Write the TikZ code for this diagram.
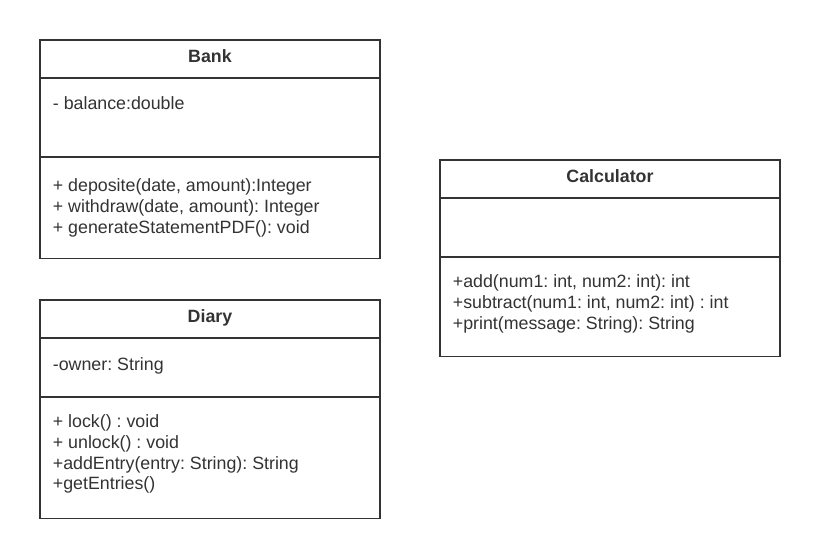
\documentclass[tikz,border=0pt]{standalone}
\usepackage{fontspec}
\setmainfont{Liberation Sans}
\frenchspacing
\definecolor{umlgray}{HTML}{333333}
\def\s{0.035146}
\def\punkt#1#2{({(#1)*\s},{-(#2)*\s})}

\begin{document}
\begin{tikzpicture}[line width=1.8pt,color=umlgray,
	every node/.style={inner sep=0pt,font=\fontsize{17.8}{21}\selectfont},
	title/.style={anchor=base,font=\fontsize{17.8}{21}\selectfont\bfseries},
	member/.style={anchor=base west}]
\useasboundingbox \punkt{0}{0} rectangle \punkt{820}{559};
% Bank
\draw \punkt{40}{40} rectangle \punkt{380}{258.5};
\draw \punkt{40}{77.7} -- \punkt{380}{77.7};
\draw \punkt{40}{157} -- \punkt{380}{157};
\node[title] (bank) at \punkt{210}{62.5} {Bank};
\node[member] (bankattr) at \punkt{52}{110} {- balance:double};
\foreach \t [count=\i from 0] in {{+ deposite(date, amount):Integer},{+ withdraw(date, amount): Integer},{+ generateStatementPDF(): void}}{
	\node[member] (bankop\i) at \punkt{52}{191+21*\i} {\t};
}
% Diary
\draw \punkt{40}{300} rectangle \punkt{380}{518.5};
\draw \punkt{40}{337.7} -- \punkt{380}{337.7};
\draw \punkt{40}{396.7} -- \punkt{380}{396.7};
\node[title] (diary) at \punkt{210}{322.5} {Diary};
\node[member] (diaryattr) at \punkt{52}{370.5} {-owner: String};
\foreach \t [count=\i from 0] in {{+ lock() : void},{+ unlock() : void},{+addEntry(entry: String): String},{+getEntries()}}{
	\node[member] (diaryop\i) at \punkt{52}{427.5+20.8*\i} {\t};
}
% Calculator
\draw \punkt{440}{160} rectangle \punkt{780}{356.5};
\draw \punkt{440}{197.7} -- \punkt{780}{197.7};
\draw \punkt{440}{256.7} -- \punkt{780}{256.7};
\node[title] (calc) at \punkt{610}{182.5} {Calculator};
\foreach \t [count=\i from 0] in {{+add(num1: int, num2: int): int},{+subtract(num1: int, num2: int) : int},{+print(message: String): String}}{
	\node[member] (calcop\i) at \punkt{452}{287.5+21*\i} {\t};
}
\end{tikzpicture}
\end{document}
